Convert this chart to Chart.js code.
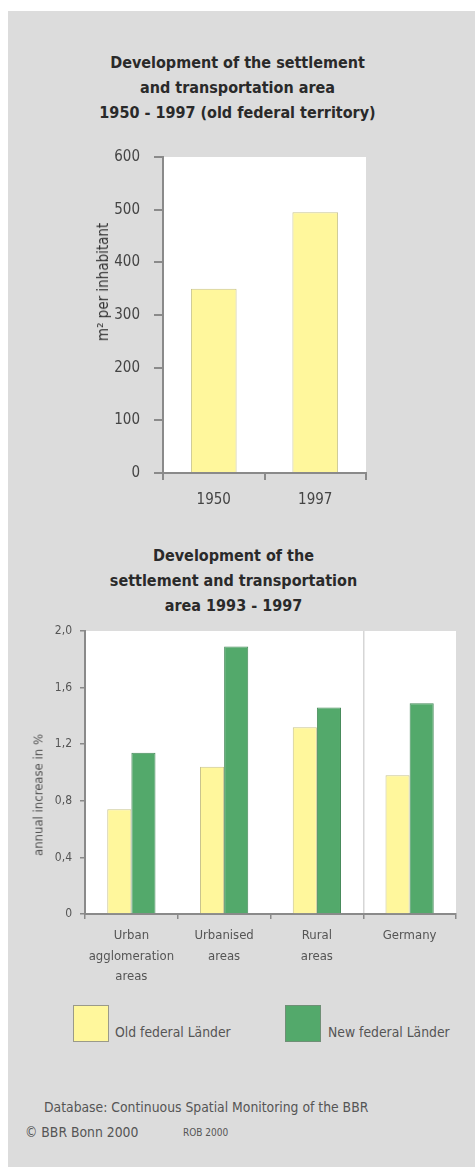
<!DOCTYPE html>
<html>
<head>
<meta charset="utf-8">
<script src="https://cdn.jsdelivr.net/npm/chart.js@4.4.1/dist/chart.umd.min.js"></script>
<style>
  html, body { margin: 0; padding: 0; background: #fff; }
  body { width: 475px; height: 1167px; position: relative; overflow: hidden;
         font-family: "Liberation Sans Narrow", "DejaVu Sans Condensed", "Arial Narrow", sans-serif; }
  #panel { position: absolute; left: 8px; top: 11px; right: 0; bottom: 0; background: #dcdcdc; }
  .title { position: absolute; left: 0; width: 475px; text-align: center; font-weight: bold;
           font-size: 16px; line-height: 25px; color: #2a2a2a; }
  .box { position: absolute; width: 34px; height: 35px; border: 1px solid #9a9a8a; }
  .note { position: absolute; font-size: 13.8px; color: #555; white-space: nowrap; }
  .ytitle { position: absolute; white-space: nowrap; transform: translate(-50%, -50%) rotate(-90deg); }
  canvas { position: absolute; left: 0; }
</style>
</head>
<body>
<div id="panel"></div>

<div class="title" style="top:50px">Development of the settlement<br>and transportation area<br>1950 - 1997 (old federal territory)</div>
<div class="title" style="top:543px;left:-4px">Development of the<br>settlement and transportation<br>area 1993 - 1997</div>

<div style="position:absolute;left:0;top:130px;width:475px;height:400px"><canvas id="areaChart"></canvas></div>
<div style="position:absolute;left:0;top:610px;width:475px;height:380px"><canvas id="growthChart"></canvas></div>

<div class="ytitle" style="left:103px;top:282px;font-size:15px;color:#333">m² per inhabitant</div>
<div class="ytitle" style="left:38px;top:795px;font-size:13px;color:#555">annual increase in %</div>

<div class="box" style="left:73px;top:1005px;background:#fff79c"></div>
<div class="note" style="left:115px;top:1024px">Old federal Länder</div>
<div class="box" style="left:285px;top:1005px;background:#53a96b;border-color:#6f8f76"></div>
<div class="note" style="left:328px;top:1024px">New federal Länder</div>

<div class="note" style="left:44px;top:1099px">Database: Continuous Spatial Monitoring of the BBR</div>
<div class="note" style="left:25px;top:1124px">© BBR Bonn 2000</div>
<div class="note" style="left:183px;top:1127px;font-size:10px">ROB 2000</div>

<script>
// chart 1: m² per inhabitant, old federal territory
const years = ['1950', '1997'];
const areaPerInhabitant = [350, 495];

// chart 2: annual increase in % 1993 - 1997
const regionTypes = [['Urban', 'agglomeration', 'areas'], ['Urbanised', 'areas'], ['Rural', 'areas'], 'Germany'];
const oldLaender = [0.74, 1.04, 1.32, 0.98];
const newLaender = [1.14, 1.89, 1.46, 1.49];
const growthTicks = ['0', '0,4', '0,8', '1,2', '1,6', '2,0'];

const FONT = '"Liberation Sans Narrow", "DejaVu Sans Condensed", "Arial Narrow", sans-serif';
const YELLOW = '#fff79c', YELLOW_EDGE = '#c9c48e';
const GREEN = '#53a96b', GREEN_EDGE = '#468a5a';
const AXIS = '#8a8a8a';

// white plot area on the grey panel
const whiteArea = {
    id: 'whiteArea',
    beforeDraw(chart) {
        const a = chart.chartArea, ctx = chart.ctx;
        ctx.save();
        ctx.fillStyle = '#fff';
        ctx.fillRect(a.left, a.top, a.right - a.left, a.bottom - a.top);
        ctx.restore();
    }
};

new Chart(document.getElementById('areaChart'), {
    type: 'bar',
    data: {
        labels: years,
        datasets: [{
            data: areaPerInhabitant,
            backgroundColor: YELLOW,
            borderColor: YELLOW_EDGE,
            borderWidth: 1,
            categoryPercentage: 0.9,
            barPercentage: 0.5
        }]
    },
    options: {
        responsive: true,
        maintainAspectRatio: false,
        animation: false,
        layout: { padding: { left: 0, top: 27, right: 109, bottom: 0 } },
        plugins: { legend: { display: false }, tooltip: { enabled: false } },
        scales: {
            x: {
                afterFit(s) { s.height = 57; },
                border: { color: AXIS, width: 2 },
                grid: { offset: true, drawOnChartArea: false, tickLength: 7, color: AXIS, lineWidth: 2 },
                ticks: { color: '#444', padding: 11, font: { family: FONT, size: 15 } }
            },
            y: {
                min: 0, max: 600,
                afterFit(s) { s.width = 163; },
                border: { color: AXIS, width: 2 },
                grid: { drawOnChartArea: false, tickLength: 9, color: AXIS, lineWidth: 2 },
                ticks: { stepSize: 100, color: '#444', padding: 14, font: { family: FONT, size: 15 } }
            }
        }
    },
    plugins: [whiteArea]
});

new Chart(document.getElementById('growthChart'), {
    type: 'bar',
    data: {
        labels: regionTypes,
        datasets: [{
            label: 'Old federal Länder',
            data: oldLaender,
            backgroundColor: YELLOW,
            borderColor: YELLOW_EDGE,
            borderWidth: 1,
            categoryPercentage: 0.52,
            barPercentage: 1.0
        }, {
            label: 'New federal Länder',
            data: newLaender,
            backgroundColor: GREEN,
            borderColor: GREEN_EDGE,
            borderWidth: 1,
            categoryPercentage: 0.52,
            barPercentage: 1.0
        }]
    },
    options: {
        responsive: true,
        maintainAspectRatio: false,
        animation: false,
        layout: { padding: { left: 0, top: 21, right: 19, bottom: 0 } },
        plugins: { legend: { display: false }, tooltip: { enabled: false } },
        scales: {
            x: {
                afterFit(s) { s.height = 76; },
                border: { color: AXIS, width: 2 },
                grid: {
                    offset: true, tickLength: 5, lineWidth: 1.5, tickColor: AXIS,
                    // only the line that sets Germany apart is drawn inside the plot
                    color: c => c.index === 3 ? '#d6d6d6' : 'rgba(0,0,0,0)'
                },
                ticks: { color: '#555', padding: 7, maxRotation: 0, autoSkip: false,
                         font: { family: FONT, size: 13, lineHeight: 1.55 } }
            },
            y: {
                min: 0, max: 2,
                afterFit(s) { s.width = 85; },
                border: { color: AXIS, width: 2 },
                grid: { drawOnChartArea: false, tickLength: 5, color: AXIS, lineWidth: 1.5 },
                ticks: {
                    stepSize: 0.4, color: '#555', padding: 8, font: { family: FONT, size: 12 },
                    callback: (v, i) => growthTicks[i]
                }
            }
        }
    },
    plugins: [whiteArea]
});
</script>
</body>
</html>
